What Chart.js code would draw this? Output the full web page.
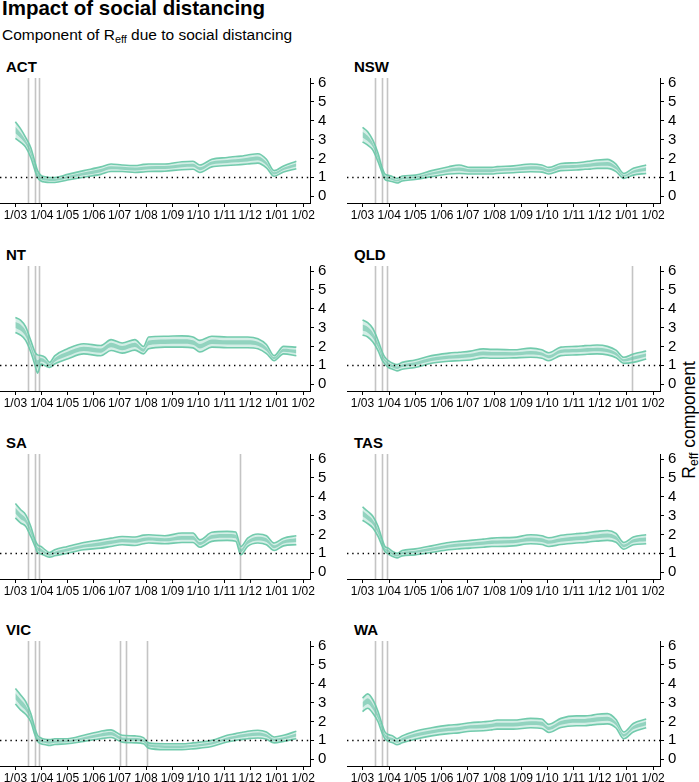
<!DOCTYPE html>
<html>
<head>
<meta charset="utf-8">
<script src="https://cdn.jsdelivr.net/npm/chart.js@4.4.1/dist/chart.umd.min.js"></script>
<style>
  html, body { margin: 0; padding: 0; background: #fff; }
  body { width: 699px; height: 782px; position: relative; overflow: hidden;
         font-family: 'Liberation Sans', Arial, sans-serif; color: #000; }
  .abs { position: absolute; white-space: nowrap; }
  .title { left: 2px; top: -2px; font-size: 20.5px; line-height: 20px; font-weight: bold; }
  .subtitle { left: 2px; top: 27px; font-size: 15.5px; line-height: 15px; }
  .panel-title { font-size: 15px; line-height: 15px; font-weight: bold; }
  .ylab { font-size: 17.5px; line-height: 17px; transform: translate(-50%, -50%) rotate(-90deg); left: 689px; top: 420px; }
  sub { font-size: 70%; vertical-align: -0.25em; line-height: 0; }
  canvas { position: absolute; }
</style>
</head>
<body>
<div class="abs title">Impact of social distancing</div>
<div class="abs subtitle">Component of R<sub>eff</sub> due to social distancing</div>
<div class="abs ylab">R<sub>eff</sub> component</div>

<script>
// 日数は 2020/03/01 からの経過日
const DAYS = [0, 6, 12, 18, 23, 26, 30, 35, 40, 46, 61, 80, 100, 112, 125, 140, 150, 156, 175, 195,
              208, 216, 230, 248, 258, 264, 272, 284, 294, 303, 314, 329];
const MONTH_DAYS = [0, 31, 61, 92, 122, 153, 184, 214, 245, 275, 306, 337];
const MONTH_LABELS = ['1/03', '1/04', '1/05', '1/06', '1/07', '1/08', '1/09', '1/10', '1/11', '1/12', '1/01', '1/02'];
const Y_TICKS = [0, 1, 2, 3, 4, 5, 6];
const REF_LEVEL = 1;

// 制限措置の日付（縦線）
const EVENTS_COMMON = [15, 23, 28];
const EVENTS_QLD = [15, 23, 28, 313];
const EVENTS_SA = [15, 23, 28, 263];
const EVENTS_VIC = [15, 23, 28, 122, 129, 154];

const ACT_HI90 = [3.95,3.58,3.12,2.58,1.80,1.35,1.10,1.02,0.98,0.98,1.15,1.35,1.55,1.70,1.65,1.62,1.68,1.70,1.70,1.82,1.85,1.65,1.95,2.05,2.10,2.12,2.18,2.25,1.95,1.35,1.60,1.85];
const ACT_HI50 = [3.68,3.36,2.96,2.42,1.66,1.24,1.01,0.94,0.90,0.90,1.06,1.25,1.43,1.58,1.55,1.51,1.56,1.58,1.59,1.69,1.72,1.53,1.83,1.92,1.96,1.98,2.04,2.10,1.81,1.26,1.50,1.73];
const ACT_LO50 = [3.33,3.08,2.76,2.21,1.49,1.09,0.89,0.82,0.80,0.80,0.94,1.10,1.27,1.42,1.40,1.36,1.40,1.42,1.43,1.53,1.55,1.37,1.67,1.75,1.79,1.81,1.84,1.90,1.64,1.14,1.38,1.57];
const ACT_LO90 = [3.06,2.86,2.60,2.05,1.35,0.98,0.80,0.74,0.72,0.72,0.85,1.00,1.15,1.30,1.30,1.25,1.28,1.30,1.32,1.40,1.42,1.25,1.55,1.62,1.65,1.67,1.70,1.75,1.50,1.05,1.28,1.45];

const NSW_HI90 = [3.65,3.42,2.97,2.27,1.47,1.17,1.10,1.03,0.94,1.06,1.11,1.35,1.56,1.65,1.52,1.52,1.52,1.56,1.60,1.70,1.65,1.52,1.73,1.77,1.82,1.86,1.91,1.95,1.70,1.20,1.47,1.65];
const NSW_HI50 = [3.42,3.20,2.81,2.13,1.39,1.08,1.01,0.95,0.86,0.98,1.04,1.25,1.44,1.51,1.42,1.42,1.42,1.45,1.49,1.58,1.54,1.42,1.62,1.65,1.70,1.73,1.78,1.81,1.58,1.12,1.36,1.51];
const NSW_LO50 = [3.11,2.92,2.60,1.96,1.28,0.97,0.90,0.84,0.77,0.88,0.95,1.13,1.29,1.34,1.27,1.27,1.27,1.31,1.35,1.41,1.38,1.27,1.46,1.50,1.54,1.56,1.60,1.61,1.42,1.02,1.22,1.34];
const NSW_LO90 = [2.88,2.70,2.44,1.82,1.20,0.88,0.81,0.76,0.69,0.80,0.88,1.03,1.17,1.20,1.17,1.17,1.17,1.20,1.24,1.29,1.27,1.17,1.35,1.38,1.42,1.43,1.47,1.47,1.30,0.94,1.11,1.20];

const NT_HI90 = [3.53,3.40,3.05,2.32,1.70,1.55,1.52,1.42,1.15,1.50,1.87,2.14,2.05,2.36,2.18,2.36,2.00,2.50,2.54,2.56,2.50,2.32,2.54,2.50,2.50,2.50,2.50,2.41,2.10,1.51,2.00,1.96];
const NT_HI50 = [3.29,3.16,2.83,2.13,1.49,1.26,1.38,1.28,1.07,1.37,1.71,1.98,1.89,2.19,2.02,2.19,1.88,2.31,2.37,2.38,2.33,2.13,2.37,2.33,2.33,2.33,2.33,2.25,1.96,1.43,1.88,1.82];
const NT_LO50 = [2.98,2.84,2.54,1.89,1.21,0.87,1.20,1.11,0.96,1.19,1.49,1.76,1.66,1.95,1.80,1.97,1.72,2.06,2.13,2.14,2.09,1.89,2.13,2.10,2.10,2.10,2.10,2.03,1.76,1.32,1.72,1.64];
const NT_LO90 = [2.74,2.60,2.32,1.70,1.00,0.58,1.06,0.97,0.88,1.06,1.33,1.60,1.50,1.78,1.64,1.80,1.60,1.87,1.96,1.96,1.92,1.70,1.96,1.93,1.93,1.93,1.93,1.87,1.62,1.24,1.60,1.50];

const QLD_HI90 = [3.40,3.26,2.95,2.32,1.69,1.42,1.24,1.10,1.03,1.15,1.28,1.51,1.64,1.69,1.75,1.87,1.84,1.84,1.82,1.91,1.82,1.66,1.96,2.00,2.04,2.05,2.07,2.00,1.80,1.42,1.60,1.75];
const QLD_HI50 = [3.16,3.03,2.73,2.16,1.55,1.31,1.13,1.01,0.93,1.04,1.16,1.39,1.51,1.56,1.61,1.73,1.70,1.70,1.69,1.76,1.68,1.53,1.82,1.86,1.90,1.91,1.93,1.86,1.68,1.32,1.46,1.62];
const QLD_LO50 = [2.84,2.73,2.45,1.94,1.38,1.17,0.99,0.88,0.80,0.90,1.00,1.22,1.34,1.37,1.42,1.53,1.51,1.51,1.52,1.57,1.51,1.37,1.65,1.69,1.71,1.73,1.74,1.69,1.52,1.20,1.29,1.46];
const QLD_LO90 = [2.60,2.50,2.23,1.78,1.24,1.06,0.88,0.79,0.70,0.79,0.88,1.10,1.21,1.24,1.28,1.39,1.37,1.37,1.39,1.42,1.37,1.24,1.51,1.55,1.57,1.59,1.60,1.55,1.40,1.10,1.15,1.33];

const SA_HI90 = [3.64,3.32,3.05,2.43,1.71,1.45,1.36,1.18,1.04,1.18,1.36,1.57,1.71,1.80,1.89,1.86,1.96,1.98,1.93,2.07,2.07,1.71,2.11,2.16,2.13,1.36,1.80,2.02,1.93,1.54,1.80,1.93];
const SA_HI50 = [3.41,3.11,2.86,2.27,1.61,1.33,1.24,1.08,0.96,1.08,1.25,1.45,1.58,1.67,1.76,1.73,1.82,1.85,1.80,1.92,1.92,1.59,1.97,2.02,1.98,1.22,1.67,1.88,1.79,1.42,1.68,1.79];
const SA_LO50 = [3.11,2.82,2.62,2.05,1.46,1.16,1.08,0.96,0.87,0.96,1.11,1.30,1.40,1.49,1.58,1.55,1.64,1.67,1.63,1.72,1.72,1.44,1.77,1.82,1.79,1.05,1.49,1.68,1.59,1.26,1.51,1.59];
const SA_LO90 = [2.88,2.61,2.43,1.89,1.36,1.04,0.96,0.86,0.79,0.86,1.00,1.18,1.27,1.36,1.45,1.41,1.50,1.54,1.50,1.57,1.57,1.32,1.63,1.68,1.64,0.91,1.36,1.54,1.45,1.14,1.39,1.45];

const TAS_HI90 = [3.46,3.23,2.96,2.43,1.71,1.36,1.27,1.09,1.00,1.14,1.23,1.39,1.57,1.63,1.68,1.75,1.80,1.82,1.84,1.98,1.93,1.82,1.95,2.04,2.07,2.11,2.16,2.21,2.05,1.57,1.86,1.98];
const TAS_HI50 = [3.25,3.03,2.77,2.27,1.61,1.28,1.18,1.01,0.93,1.06,1.13,1.29,1.45,1.51,1.56,1.62,1.67,1.68,1.70,1.84,1.79,1.68,1.80,1.89,1.92,1.96,2.00,2.05,1.91,1.46,1.74,1.84];
const TAS_LO50 = [2.96,2.77,2.53,2.05,1.46,1.17,1.05,0.90,0.82,0.94,1.01,1.14,1.30,1.35,1.39,1.45,1.49,1.50,1.53,1.64,1.60,1.50,1.61,1.69,1.72,1.76,1.80,1.84,1.72,1.32,1.57,1.64];
const TAS_LO90 = [2.75,2.57,2.34,1.89,1.36,1.09,0.96,0.82,0.75,0.86,0.91,1.04,1.18,1.23,1.27,1.32,1.36,1.36,1.39,1.50,1.46,1.36,1.46,1.54,1.57,1.61,1.64,1.68,1.58,1.21,1.45,1.50];

const VIC_HI90 = [3.75,3.42,3.06,2.43,1.62,1.26,1.12,1.05,1.03,1.08,1.08,1.26,1.48,1.55,1.26,1.23,1.14,0.86,0.81,0.81,0.86,0.90,0.99,1.26,1.35,1.41,1.48,1.53,1.44,1.17,1.26,1.48];
const VIC_HI50 = [3.50,3.18,2.86,2.29,1.51,1.16,1.03,0.96,0.94,0.99,1.00,1.16,1.36,1.43,1.15,1.12,1.04,0.78,0.72,0.72,0.76,0.80,0.89,1.15,1.24,1.30,1.36,1.41,1.32,1.08,1.16,1.36];
const VIC_LO50 = [3.17,2.85,2.58,2.12,1.37,1.04,0.90,0.85,0.81,0.86,0.89,1.04,1.20,1.26,1.01,0.97,0.91,0.66,0.59,0.59,0.64,0.68,0.77,1.01,1.10,1.14,1.20,1.24,1.17,0.95,1.04,1.20];
const VIC_LO90 = [2.92,2.61,2.38,1.98,1.26,0.94,0.81,0.76,0.72,0.77,0.81,0.94,1.08,1.14,0.90,0.86,0.81,0.58,0.50,0.50,0.54,0.58,0.67,0.90,0.99,1.03,1.08,1.12,1.05,0.86,0.94,1.08];

const WA_HI90 = [3.24,3.46,3.15,2.52,1.80,1.44,1.30,1.23,1.08,1.23,1.48,1.66,1.80,1.84,1.93,1.98,2.02,2.07,2.07,2.16,2.13,1.84,2.16,2.29,2.29,2.31,2.38,2.41,2.10,1.44,1.89,2.13];
const WA_HI50 = [3.02,3.23,2.93,2.36,1.66,1.33,1.19,1.12,0.98,1.12,1.35,1.53,1.66,1.70,1.79,1.84,1.88,1.93,1.93,2.01,1.98,1.71,2.02,2.13,2.13,2.16,2.22,2.25,1.97,1.33,1.76,1.99];
const WA_LO50 = [2.74,2.93,2.65,2.14,1.49,1.19,1.05,0.97,0.86,0.97,1.18,1.36,1.49,1.53,1.62,1.64,1.69,1.73,1.73,1.81,1.77,1.54,1.82,1.93,1.93,1.95,2.00,2.03,1.79,1.19,1.58,1.80];
const WA_LO90 = [2.52,2.70,2.43,1.98,1.35,1.08,0.94,0.86,0.76,0.86,1.05,1.23,1.35,1.39,1.48,1.50,1.55,1.59,1.59,1.66,1.62,1.41,1.68,1.77,1.77,1.80,1.84,1.87,1.65,1.08,1.44,1.66];

const PANELS = [
    { name: 'ACT', hi90: ACT_HI90, hi50: ACT_HI50, lo50: ACT_LO50, lo90: ACT_LO90, events: EVENTS_COMMON },
    { name: 'NSW', hi90: NSW_HI90, hi50: NSW_HI50, lo50: NSW_LO50, lo90: NSW_LO90, events: EVENTS_COMMON },
    { name: 'NT',  hi90: NT_HI90,  hi50: NT_HI50,  lo50: NT_LO50,  lo90: NT_LO90,  events: EVENTS_COMMON },
    { name: 'QLD', hi90: QLD_HI90, hi50: QLD_HI50, lo50: QLD_LO50, lo90: QLD_LO90, events: EVENTS_QLD },
    { name: 'SA',  hi90: SA_HI90,  hi50: SA_HI50,  lo50: SA_LO50,  lo90: SA_LO90,  events: EVENTS_SA },
    { name: 'TAS', hi90: TAS_HI90, hi50: TAS_HI50, lo50: TAS_LO50, lo90: TAS_LO90, events: EVENTS_COMMON },
    { name: 'VIC', hi90: VIC_HI90, hi50: VIC_HI50, lo50: VIC_LO50, lo90: VIC_LO90, events: EVENTS_VIC },
    { name: 'WA',  hi90: WA_HI90,  hi50: WA_HI50,  lo50: WA_LO50,  lo90: WA_LO90,  events: EVENTS_COMMON },
];

// レイアウト（各行の y=6 の位置、各列の左端）
const ROW_TOPS = [83, 271, 459, 646];
const COL_LEFTS = [0, 347];
const COL_WIDTHS = [345, 348];
const TITLE_LEFTS = [6, 354];

const MINT_LINE = 'rgba(108, 200, 169, 0.95)';
const MINT_OUTER = 'rgba(102, 194, 165, 0.28)';
const MINT_INNER = 'rgba(102, 194, 165, 0.6)';

Chart.defaults.font.family = "'Liberation Sans', Arial, sans-serif";
Chart.defaults.color = '#000';

const toPoints = (arr) => DAYS.map((d, i) => ({ x: d, y: arr[i] }));

// 縦線（措置日）と y=1 の点線
const refLinesPlugin = {
    id: 'refLines',
    beforeDraw(chart) {
        const { ctx, chartArea, scales } = chart;
        ctx.save();
        ctx.strokeStyle = '#c4c4c4';
        ctx.lineWidth = 1.6;
        chart.options.plugins.refLines.events.forEach((d) => {
            const x = Math.round(scales.x.getPixelForValue(d)) + 0.5;
            ctx.beginPath();
            ctx.moveTo(x, chartArea.top);
            ctx.lineTo(x, chartArea.bottom);
            ctx.stroke();
        });
        ctx.restore();
    },
    afterDatasetsDraw(chart) {
        const { ctx, chartArea, scales } = chart;
        const y = Math.round(scales.y.getPixelForValue(REF_LEVEL)) + 0.5;
        ctx.save();
        ctx.strokeStyle = '#000';
        ctx.lineWidth = 1.4;
        ctx.setLineDash([1.4, 3.8]);
        ctx.beginPath();
        ctx.moveTo(chartArea.left, y);
        ctx.lineTo(chartArea.right, y);
        ctx.stroke();
        ctx.restore();
    },
};

PANELS.forEach((p, idx) => {
    const row = Math.floor(idx / 2);
    const col = idx % 2;

    const title = document.createElement('div');
    title.className = 'abs panel-title';
    title.textContent = p.name;
    title.style.left = TITLE_LEFTS[col] + 'px';
    title.style.top = (ROW_TOPS[row] - 24) + 'px';
    document.body.appendChild(title);

    // 目盛ラベルの余白で描画域の上端がキャンバス上端から 13px 下がる
    const canvas = document.createElement('canvas');
    canvas.width = COL_WIDTHS[col];
    canvas.height = 164;
    canvas.style.left = COL_LEFTS[col] + 'px';
    canvas.style.top = (ROW_TOPS[row] - 18) + 'px';
    canvas.style.width = COL_WIDTHS[col] + 'px';
    canvas.style.height = '164px';
    document.body.appendChild(canvas);

    new Chart(canvas.getContext('2d'), {
        type: 'line',
        data: {
            datasets: [
                { data: toPoints(p.hi50), borderWidth: 0, borderColor: 'rgba(0,0,0,0)', backgroundColor: MINT_INNER, fill: '+1' },
                { data: toPoints(p.lo50), borderWidth: 0, borderColor: 'rgba(0,0,0,0)', fill: false },
                { data: toPoints(p.hi90), borderWidth: 1.6, borderColor: MINT_LINE, backgroundColor: MINT_OUTER, fill: '+1' },
                { data: toPoints(p.lo90), borderWidth: 1.6, borderColor: MINT_LINE, fill: false },
            ],
        },
        options: {
            responsive: false,
            animation: false,
            devicePixelRatio: 1,
            layout: { padding: { top: 8, left: 0, right: 0, bottom: 0 } },
            elements: {
                point: { radius: 0 },
                line: { cubicInterpolationMode: 'monotone' },
            },
            plugins: {
                legend: { display: false },
                tooltip: { enabled: false },
                filler: { drawTime: 'beforeDatasetsDraw' },
                refLines: { events: p.events },
            },
            scales: {
                x: {
                    type: 'linear',
                    min: -18,
                    max: 345,
                    afterBuildTicks: (s) => { s.ticks = MONTH_DAYS.map((v) => ({ value: v })); },
                    afterFit: (s) => { s.height = 26; },
                    border: { display: true, color: '#000', width: 1 },
                    grid: { display: true, drawOnChartArea: false, tickLength: 4, color: '#000' },
                    ticks: {
                        autoSkip: false, maxRotation: 0, minRotation: 0, padding: 1,
                        font: { size: 12 },
                        callback: (v, i) => MONTH_LABELS[i],
                    },
                },
                y: {
                    position: 'right',
                    min: -0.37,
                    max: 6.27,
                    afterBuildTicks: (s) => { s.ticks = Y_TICKS.map((v) => ({ value: v })); },
                    afterFit: (s) => { s.width = 35; },
                    border: { display: true, color: '#000', width: 1 },
                    grid: { display: true, drawOnChartArea: false, tickLength: 4, color: '#000' },
                    ticks: { autoSkip: false, padding: 4, font: { size: 15 }, callback: (v) => String(v) },
                },
            },
        },
        plugins: [refLinesPlugin],
    });
});
</script>
</body>
</html>
